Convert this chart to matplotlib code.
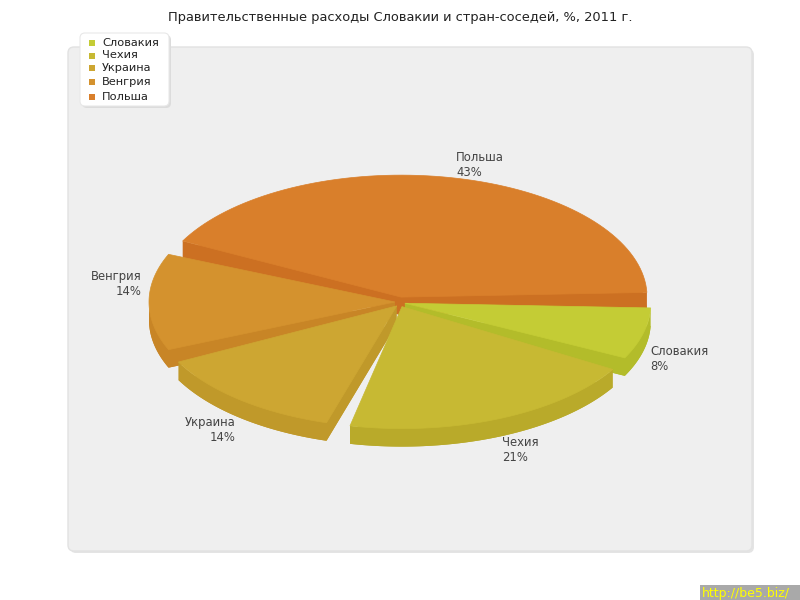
import matplotlib
matplotlib.use("Agg")
import matplotlib.pyplot as plt
from matplotlib.patches import Polygon, FancyBboxPatch, Rectangle
import numpy as np

# data
countries = ["Словакия", "Чехия", "Украина", "Венгрия", "Польша"]
shares = [8, 21, 14, 14, 43]
top_colors = ["#c4cc35", "#c7b933", "#cda632", "#d4922e", "#d97f2b"]
side_colors = ["#b3bc2a", "#b9aa2a", "#c0992a", "#c88526", "#cc7022"]
title = "Правительственные расходы Словакии и стран-соседей, %, 2011 г."

# pie geometry, pixels
cx, cy = 400, 302
rx, ry = 246, 122
depth = 18
explode = 5
gap = 2.2  # degrees trimmed from each side of a slice

fig = plt.figure(figsize=(8, 6), dpi=100)
ax = fig.add_axes([0, 0, 1, 1])
ax.set_xlim(0, 800)
ax.set_ylim(600, 0)
ax.axis("off")

# plot area panel with soft shadow
ax.add_patch(FancyBboxPatch((70, 49), 684, 504, boxstyle="round,pad=0,rounding_size=6",
                            fc="#e4e4e4", ec="none", zorder=0))
ax.add_patch(FancyBboxPatch((68, 47), 684, 504, boxstyle="round,pad=0,rounding_size=6",
                            fc="#efefef", ec="#e2e2e2", lw=1, zorder=1))

ax.text(400, 17, title, ha="center", va="center", fontsize=9.4, color="#222222")


def rim(ox, oy, angles, dz=0):
    t = np.radians(angles)
    return np.column_stack([ox + rx * np.cos(t), oy + ry * np.sin(t) + dz])


bounds = np.concatenate([[0], np.cumsum(shares)]) / sum(shares) * 360
slices = []
for i, name in enumerate(countries):
    a, b = bounds[i] + gap, bounds[i + 1] - gap
    mid = np.radians((bounds[i] + bounds[i + 1]) / 2)
    ox = cx + explode * np.cos(mid)
    oy = cy + explode * np.sin(mid)
    slices.append((oy + ry * 0.5 * np.sin(mid), i, a, b, ox, oy, mid))

# back to front
for order, (_, i, a, b, ox, oy, mid) in enumerate(sorted(slices)):
    z = 2 + order * 0.1
    side = side_colors[i]
    arc = np.linspace(a, b, 80)
    # bottom disc piece
    bottom = np.vstack([[ox, oy + depth], rim(ox, oy, arc, depth)])
    ax.add_patch(Polygon(bottom, closed=True, fc=side, ec="none", zorder=z))
    # curved outer wall, front half only
    lo, hi = max(a, 0), min(b, 180)
    if hi > lo:
        wa = np.linspace(lo, hi, 80)
        wall = np.vstack([rim(ox, oy, wa), rim(ox, oy, wa[::-1], depth)])
        ax.add_patch(Polygon(wall, closed=True, fc=side, ec="none", zorder=z))
    # cut faces facing the viewer
    for t, show in ((a, np.cos(np.radians(a)) < 0), (b, np.cos(np.radians(b)) > 0)):
        if show:
            p = rim(ox, oy, [t])[0]
            face = [(ox, oy), p, (p[0], p[1] + depth), (ox, oy + depth)]
            ax.add_patch(Polygon(face, closed=True, fc=side, ec="none", zorder=z))
    top = np.vstack([[ox, oy], rim(ox, oy, arc)])
    ax.add_patch(Polygon(top, closed=True, fc=top_colors[i], ec=top_colors[i],
                         lw=0.5, zorder=z))

    # slice label next to the rim
    c, s = np.cos(mid), np.sin(mid)
    rim_x = cx + rx * c
    rim_y = cy + ry * s
    lx = rim_x + 12 * c
    ly = rim_y + (16 + 14 * s if s > 1e-6 else -25) + 7
    ax.text(lx, ly, f"{countries[i]}\n{shares[i]}%", ha="left" if c > 0 else "right",
            va="center", fontsize=8.4, color="#444444", linespacing=1.2, zorder=10)

# legend box
ax.add_patch(FancyBboxPatch((82, 35), 89, 73, boxstyle="round,pad=0,rounding_size=5",
                            fc="#dcdcdc", ec="none", zorder=11))
ax.add_patch(FancyBboxPatch((80, 33), 89, 73, boxstyle="round,pad=0,rounding_size=5",
                            fc="white", ec="#e8e8e8", lw=0.8, zorder=12))
legend_y = [43, 55.5, 68, 82, 97]
for name, col, y in zip(countries, top_colors, legend_y):
    ax.add_patch(Rectangle((89, y - 3), 6, 6, fc=col, ec="none", zorder=13))
    ax.text(102, y, name, ha="left", va="center", fontsize=8.2, color="#222222", zorder=13)

# site watermark
ax.add_patch(Rectangle((700, 585), 100, 15, fc="#a9a9a9", ec="none", zorder=14))
ax.text(702, 593, "http://be5.biz/", ha="left", va="center", fontsize=9,
        color="#ffff00", zorder=15)

fig.savefig("out.png", dpi=100)
